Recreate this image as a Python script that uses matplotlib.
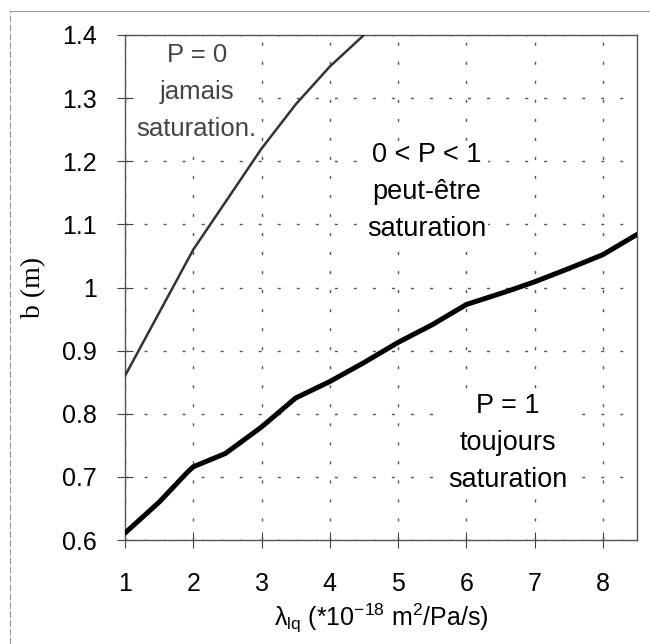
import numpy as np
import matplotlib
matplotlib.use("Agg")
import matplotlib.pyplot as plt

plt.rcParams['font.family'] = ['Liberation Sans', 'DejaVu Sans']
plt.rcParams['mathtext.fontset'] = 'custom'
plt.rcParams['mathtext.rm'] = 'Liberation Sans'
plt.rcParams['mathtext.it'] = 'Liberation Sans'

# limite P = 0 (jamais saturation)
x_p0 = [1.0, 1.5, 2.0, 2.5, 3.0, 3.5, 4.0, 4.5]
b_p0 = [0.86, 0.96, 1.06, 1.14, 1.22, 1.29, 1.35, 1.40]

# limite P = 1 (toujours saturation)
x_p1 = [1.0, 1.5, 1.92, 2.0, 2.47, 3.0, 3.5, 4.0, 4.5, 5.0, 5.5, 6.0, 6.6, 7.0, 7.5, 8.0, 8.5]
b_p1 = [0.611, 0.66, 0.708, 0.716, 0.737, 0.779, 0.825, 0.851, 0.881, 0.913, 0.941,
        0.973, 0.994, 1.009, 1.03, 1.052, 1.084]

x_ticks = [1, 2, 3, 4, 5, 6, 7, 8]
y_ticks = [0.6, 0.7, 0.8, 0.9, 1.0, 1.1, 1.2, 1.3, 1.4]
y_labels = ['0.6', '0.7', '0.8', '0.9', '1', '1.1', '1.2', '1.3', '1.4']

fig = plt.figure(figsize=(6.5, 6.44), dpi=100)
ax = fig.add_axes([125 / 650, 1 - 540 / 644, (637 - 125) / 650, (540 - 35) / 644])

ax.plot(x_p0, b_p0, color='#333333', lw=1.8, zorder=3)
ax.plot(x_p1, b_p1, color='black', lw=3.6, solid_capstyle='round',
        solid_joinstyle='round', zorder=3)

ax.set_xlim(1, 8.5)
ax.set_ylim(0.6, 1.4)
ax.set_xticks(x_ticks)
ax.set_yticks(y_ticks)
ax.set_yticklabels(y_labels)
ax.tick_params(direction='inout', length=12, width=0.8, colors='#444444',
               labelsize=18, labelcolor='black')
ax.tick_params(axis='x', pad=17)
ax.tick_params(axis='y', pad=14)
ax.grid(True, color='#555555', linestyle=(0, (2.2, 11.5)), lw=1.0)
for s in ax.spines.values():
    s.set_color('#555555')
    s.set_linewidth(1.0)

ax.set_ylabel('b (m)', family='Liberation Serif', fontsize=20, labelpad=12)
ax.set_xlabel(r'$\lambda_{\mathrm{lq}}$ (*10$^{-18}$ m$^2$/Pa/s)', fontsize=18, labelpad=4)

# fond blanc derrière les textes (la grille ne les traverse pas)
bg = dict(facecolor='white', edgecolor='none', pad=1)
txt = dict(ha='center', va='center', bbox=bg, zorder=2)
ax.text(2.05, 1.31, 'P = 0\njamais\nsaturation.', color='#444444',
        fontsize=18.5, linespacing=1.68, **txt)
ax.text(5.42, 1.151, '0 < P < 1\npeut-être\nsaturation', fontsize=19.5,
        linespacing=1.55, **txt)
ax.text(6.61, 0.754, 'P = 1\ntoujours\nsaturation', fontsize=19.5,
        linespacing=1.55, **txt)

# cadre de la figure
fig.add_artist(plt.Line2D([10 / 650, 10 / 650], [0, 1 - 11 / 644], color='#999999',
                          lw=0.8, linestyle=(0, (6, 2)), transform=fig.transFigure))
fig.add_artist(plt.Line2D([10 / 650, 1], [1 - 11 / 644, 1 - 11 / 644], color='#999999',
                          lw=0.8, transform=fig.transFigure))

plt.savefig('out.png', dpi=100)
